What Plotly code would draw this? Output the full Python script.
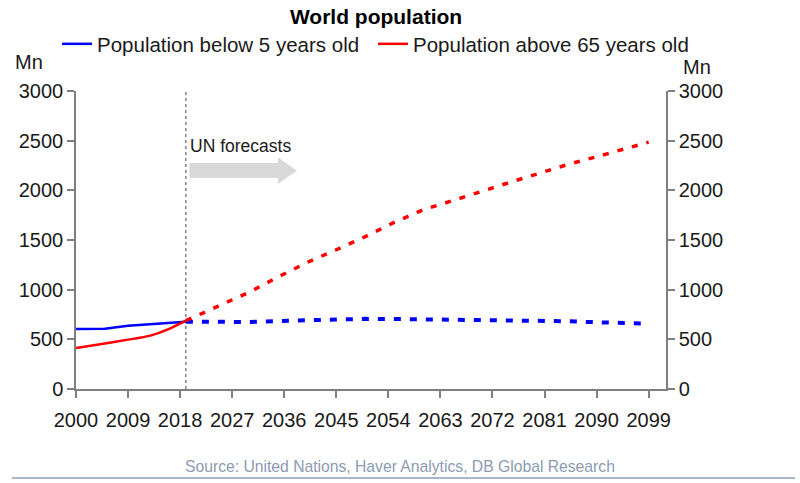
import plotly.graph_objects as go

# data (Mn people)
hist_years = [2000, 2005, 2009, 2011, 2013, 2016, 2019]
below5_hist = [603, 606, 636, 645, 654, 669, 677]
above65_hist = [412, 457, 497, 515, 540, 603, 688]

fcst_years = [2019, 2025, 2030, 2035, 2040, 2045, 2050, 2055, 2060, 2065,
              2070, 2075, 2080, 2085, 2090, 2095, 2099]
below5_fcst = [677, 672, 675, 685, 695, 703, 706, 705, 702, 700,
               697, 692, 688, 682, 672, 664, 657]
above65_fcst = [688, 842, 976, 1130, 1275, 1402, 1533, 1677, 1804, 1894,
                1990, 2080, 2170, 2260, 2338, 2415, 2485]

x_ticks = list(range(2000, 2100, 9))
forecast_start = 2019

FONT = "Liberation Sans, Arial, sans-serif"
BLUE = "#0000ff"
RED = "#ff0000"
AXIS = "#7f7f7f"
TXT = "#1a1a1a"

fig = go.Figure()
fig.add_trace(go.Scatter(x=hist_years, y=below5_hist, mode="lines", name="Population below 5 years old",
                         line=dict(color=BLUE, width=2.5)))
fig.add_trace(go.Scatter(x=hist_years, y=above65_hist, mode="lines", name="Population above 65 years old",
                         line=dict(color=RED, width=2.5, shape="spline", smoothing=0.8), yaxis="y2"))
fig.add_trace(go.Scatter(x=fcst_years, y=below5_fcst, mode="lines", showlegend=False,
                         line=dict(color=BLUE, width=4, dash="7px,9px")))
fig.add_trace(go.Scatter(x=fcst_years, y=above65_fcst, mode="lines", showlegend=False,
                         line=dict(color=RED, width=3.5, dash="6px,9px"), yaxis="y2"))

axis_style = dict(showline=True, linecolor=AXIS, linewidth=1.5, ticks="outside", ticklen=7,
                  tickwidth=1.5, tickcolor=AXIS, showgrid=False, zeroline=False, automargin=False,
                  tickfont=dict(family=FONT, size=20, color=TXT))

fig.update_layout(
    width=800, height=483,
    margin=dict(l=76, r=134, t=91, b=94),
    plot_bgcolor="white", paper_bgcolor="white",
    title=dict(text="<b>World population</b>", x=376 / 800, xanchor="center", y=1 - 17 / 483,
               yanchor="middle", font=dict(family=FONT, size=21, color="black")),
    xaxis=dict(range=[2000, 2102], tickvals=x_ticks, ticklabelstandoff=5, **axis_style),
    yaxis=dict(range=[0, 3000], dtick=500, **axis_style),
    yaxis2=dict(range=[0, 3000], dtick=500, overlaying="y", side="right", anchor="x", **axis_style),
    legend=dict(orientation="h", x=(57 - 76) / 590, xanchor="left", y=(389 - 44) / 298, yanchor="middle",
                font=dict(family=FONT, size=20.5, color=TXT), bgcolor="rgba(0,0,0,0)",
                entrywidth=271, entrywidthmode="pixels"),
)

# forecast divider and block arrow
fig.add_shape(type="line", x0=forecast_start, x1=forecast_start, y0=0, y1=3000, xref="x", yref="y",
              line=dict(color="#404040", width=1, dash="dot"))
fig.add_shape(type="path", xref="x", yref="y", fillcolor="#d9d9d9", line=dict(width=0),
              path="M 2019.6 2275 L 2034.9 2275 L 2034.9 2334 L 2038.2 2198 "
                   "L 2034.9 2063 L 2034.9 2124 L 2019.6 2124 Z")
fig.add_annotation(text="UN forecasts", x=2019.3, y=2445, xref="x", yref="y", xanchor="left",
                   yanchor="middle", showarrow=False, font=dict(family=FONT, size=17.5, color=TXT))

# unit labels
fig.add_annotation(text="Mn", x=(29 - 76) / 590, y=(389 - 62) / 298, xref="paper", yref="paper",
                   showarrow=False, xanchor="center", yanchor="middle",
                   font=dict(family=FONT, size=20, color=TXT))
fig.add_annotation(text="Mn", x=(697 - 76) / 590, y=(389 - 67) / 298, xref="paper", yref="paper",
                   showarrow=False, xanchor="center", yanchor="middle",
                   font=dict(family=FONT, size=20, color=TXT))

# source line
fig.add_annotation(text="Source: United Nations, Haver Analytics, DB Global Research",
                   x=(400 - 76) / 590, y=(389 - 466) / 298, xref="paper", yref="paper", showarrow=False,
                   xanchor="center", yanchor="middle", font=dict(family=FONT, size=15.7, color="#8c9bb3"))
fig.add_shape(type="line", xref="paper", yref="paper", x0=(12 - 76) / 590, x1=(795 - 76) / 590,
              y0=(389 - 478) / 298, y1=(389 - 478) / 298, line=dict(color="#a9b7cc", width=2))

# drop the page's default body margin so the figure sits at the window's corner
fig.write_html("out.html", config={"displayModeBar": False},
               post_script="document.body.style.margin='0';")
